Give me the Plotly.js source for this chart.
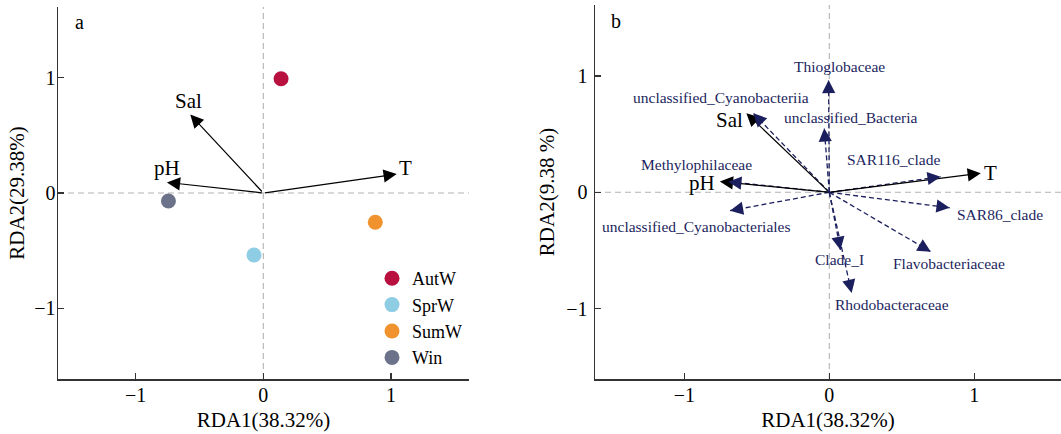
<!DOCTYPE html>
<html>
<head>
<meta charset="utf-8">
<script src="https://cdn.plot.ly/plotly-3.0.1.min.js"></script>
<style>html,body{margin:0;padding:0;background:#fff}#chart{width:1061px;height:434px}</style>
</head>
<body>
<div id="chart"></div>
<script>
// ---- data ----
const groups = ['AutW', 'SprW', 'SumW', 'Win'];
const siteRDA1 = [0.139, -0.073, 0.877, -0.743];
const siteRDA2 = [0.991, -0.538, -0.254, -0.069];

const envNames = ['Sal', 'pH', 'T'];
const envRDA1 = [-0.572, -0.755, 1.045];
const envRDA2 = [0.680, 0.092, 0.164];

const taxa = ['Thioglobaceae', 'unclassified_Cyanobacteriia', 'unclassified_Bacteria',
  'SAR116_clade', 'Methylophilaceae', 'unclassified_Cyanobacteriales',
  'SAR86_clade', 'Flavobacteriaceae', 'Clade_I', 'Rhodobacteraceae'];
const taxaRDA1 = [-0.005, -0.524, -0.035, 0.768, -0.697, -0.685, 0.830, 0.700, 0.077, 0.154];
const taxaRDA2 = [0.966, 0.679, 0.550, 0.134, 0.091, -0.158, -0.133, -0.511, -0.496, -0.865];

const xTitle = 'RDA1(38.32%)';
const yTitleA = 'RDA2(29.38%)';
const yTitleB = 'RDA2(9.38 %)';

// ---- styles ----
const FONT = 'Liberation Serif, Times New Roman, serif';
const NAVY = '#1c1f5e';
const groupColors = ['#b8103f', '#8ecde3', '#f0922e', '#6c7289'];
const envShiftA = [[-2, 14], [0, 14], [9, 6]];
const envShiftB = [[-17, -7], [-18, -1], [10, 0]];
const taxaShift = [[11, 13], [-32, 16], [27, 11], [-47, 17], [-32, 17], [-33, -16],
  [50, -7], [18, -12], [-1, -10], [40, -12]];
const HEAD_LEN = 10;

const traces = [];
groups.forEach((g, i) => {
  traces.push({
    x: [siteRDA1[i]], y: [siteRDA2[i]], name: g, type: 'scatter', mode: 'markers',
    marker: {size: 15, color: groupColors[i]}, xaxis: 'x', yaxis: 'y', showlegend: true
  });
});
taxa.forEach((t, i) => {
  traces.push({
    x: [0, taxaRDA1[i]], y: [0, taxaRDA2[i]], type: 'scatter', mode: 'lines',
    line: {color: NAVY, width: 1.3, dash: '5px,3px'}, xaxis: 'x2', yaxis: 'y2',
    showlegend: false, hoverinfo: 'skip'
  });
});

const annotations = [];
function envArrows(xr, yr, shifts) {
  envNames.forEach((n, i) => {
    annotations.push({
      x: envRDA1[i], y: envRDA2[i], ax: 0, ay: 0, xref: xr, yref: yr, axref: xr, ayref: yr,
      text: '', showarrow: true, arrowhead: 2, arrowsize: 2.2, arrowwidth: 1.2,
      arrowcolor: '#000', standoff: 0
    });
    annotations.push({
      x: envRDA1[i], y: envRDA2[i], xref: xr, yref: yr, text: n, showarrow: false,
      xshift: shifts[i][0], yshift: shifts[i][1], font: {family: FONT, size: 21, color: '#000'}
    });
  });
}
envArrows('x', 'y', envShiftA);
envArrows('x2', 'y2', envShiftB);
taxa.forEach((t, i) => {
  annotations.push({
    x: taxaRDA1[i], y: taxaRDA2[i], xref: 'x2', yref: 'y2', text: t, showarrow: false,
    xshift: taxaShift[i][0], yshift: taxaShift[i][1], font: {family: FONT, size: 15.5, color: NAVY}
  });
});
annotations.push({x: 79 / 1061, y: 1 - 22 / 434, xref: 'paper', yref: 'paper', text: 'a',
  xanchor: 'center', yanchor: 'middle', showarrow: false,
  font: {family: FONT, size: 20, color: '#000'}});
annotations.push({x: 616 / 1061, y: 1 - 21 / 434, xref: 'paper', yref: 'paper', text: 'b',
  xanchor: 'center', yanchor: 'middle', showarrow: false,
  font: {family: FONT, size: 20, color: '#000'}});

function zeroLines(xr, yr) {
  const st = {color: '#b3b3b3', width: 1.1, dash: '6px,4px'};
  return [
    {type: 'line', xref: xr, yref: yr + ' domain', x0: 0, x1: 0, y0: 0, y1: 1, line: st, layer: 'below'},
    {type: 'line', xref: xr + ' domain', yref: yr, x0: 0, x1: 1, y0: 0, y1: 0, line: st, layer: 'below'}
  ];
}

function axis(extra) {
  return Object.assign({
    showgrid: false, zeroline: false, showline: true, linecolor: '#333', linewidth: 1.5,
    ticks: 'inside', ticklen: 6, tickwidth: 1.3, tickcolor: '#333', tickvals: [-1, 0, 1],
    tickfont: {family: FONT, size: 20, color: '#000'}, automargin: false, mirror: false
  }, extra);
}

const layout = {
  width: 1061, height: 434, margin: {l: 0, r: 0, t: 0, b: 0},
  paper_bgcolor: '#fff', plot_bgcolor: '#fff', font: {family: FONT},
  xaxis: axis({domain: [58 / 1061, 469 / 1061], range: [-1.608, 1.611], anchor: 'y',
    ticklabelstandoff: -3,
    title: {text: xTitle, font: {family: FONT, size: 21, color: '#000'}, standoff: 8}}),
  yaxis: axis({domain: [1 - 379 / 434, 1 - 7 / 434], range: [-1.613, 1.613], anchor: 'x',
    ticklabelstandoff: -3,
    title: {text: yTitleA, font: {family: FONT, size: 21, color: '#000'}, standoff: 4}}),
  xaxis2: axis({domain: [595 / 1061, 1], range: [-1.616, 1.598], anchor: 'y2',
    ticklabelstandoff: -3,
    title: {text: xTitle, font: {family: FONT, size: 21, color: '#000'}, standoff: 8}}),
  yaxis2: axis({domain: [1 - 379 / 434, 1 - 5 / 434], range: [-1.605, 1.61], anchor: 'x2',
    ticklabelstandoff: 2,
    title: {text: yTitleB, font: {family: FONT, size: 21, color: '#000'}, standoff: 6}}),
  shapes: zeroLines('x', 'y').concat(zeroLines('x2', 'y2')),
  annotations: annotations,
  showlegend: true,
  legend: {x: 372 / 1061, y: 1 - 260 / 434, xanchor: 'left', yanchor: 'top',
    bgcolor: 'rgba(0,0,0,0)', font: {family: FONT, size: 18, color: '#000'},
    itemsizing: 'trace', tracegroupgap: 0}
};

const gd = document.getElementById('chart');
Plotly.newPlot(gd, traces, layout, {displayModeBar: false, staticPlot: true}).then(() => {
  // arrowheads for the dashed taxa vectors, oriented with the axes' own pixel scales
  const xa = gd._fullLayout.xaxis2, ya = gd._fullLayout.yaxis2;
  const heads = taxa.map((t, i) => {
    const dx = xa.c2p(taxaRDA1[i]) - xa.c2p(0);
    const dy = ya.c2p(taxaRDA2[i]) - ya.c2p(0);
    const len = Math.hypot(dx, dy);
    return {
      x: taxaRDA1[i], y: taxaRDA2[i], xref: 'x2', yref: 'y2',
      ax: -dx / len * HEAD_LEN, ay: -dy / len * HEAD_LEN,
      text: '', showarrow: true, arrowhead: 2, arrowsize: 2.2, arrowwidth: 1.2,
      arrowcolor: NAVY, standoff: 0
    };
  });
  return Plotly.relayout(gd, {annotations: annotations.concat(heads)});
});
</script>
</body>
</html>
